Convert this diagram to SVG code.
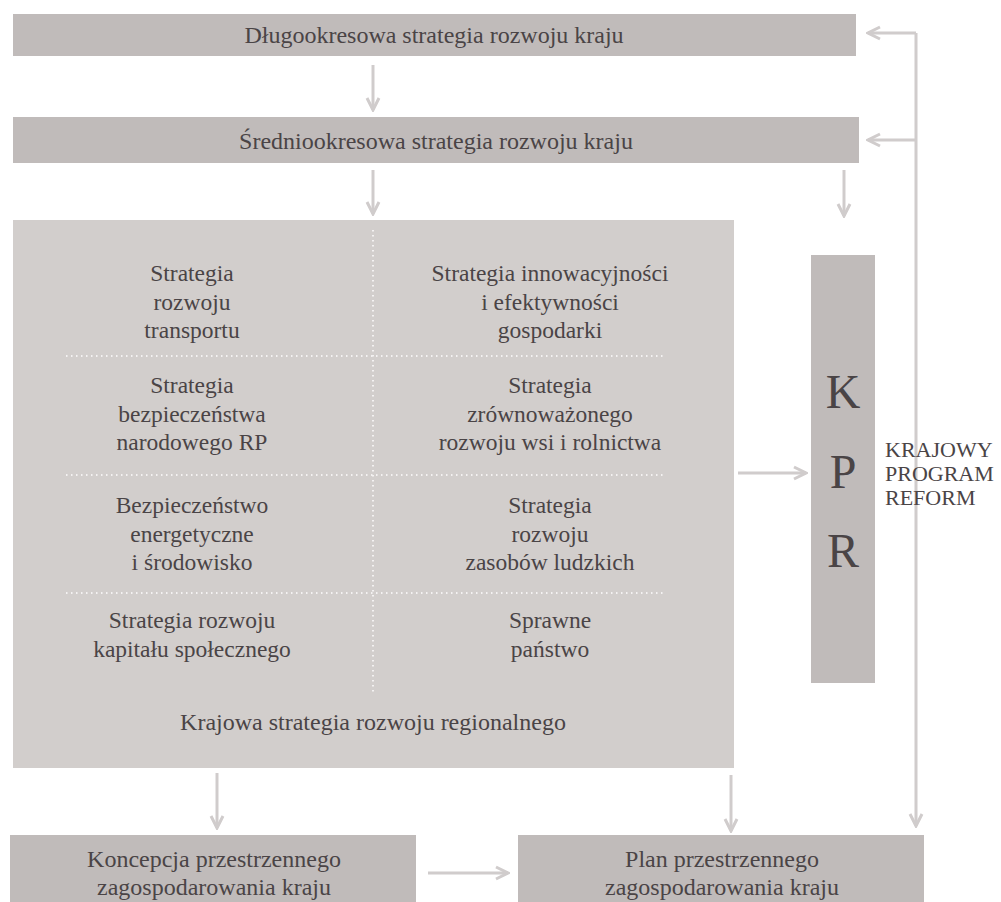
<svg xmlns="http://www.w3.org/2000/svg" width="1001" height="902" viewBox="0 0 1001 902">
<style>
  .box{fill:#c0bbba}
  .big{fill:#d2cecc}
  .t{font-family:"Liberation Serif","DejaVu Serif",serif;fill:#4a4446;text-anchor:middle}
  .h{font-size:24px}
  .g{font-size:23.5px}
  .kpr{font-size:48px}
  .side{font-family:"Liberation Serif","DejaVu Serif",serif;fill:#4a4446;font-size:22px}
  .c{stroke:#d0cccc;stroke-width:3;fill:none}
  .dot{stroke:#f4f2f2;stroke-width:2;stroke-dasharray:1.5 3.5;fill:none}
</style>
<defs>
  <marker id="ah" viewBox="0 0 16 16" refX="14" refY="8" markerWidth="16" markerHeight="16" orient="auto" markerUnits="userSpaceOnUse">
    <path d="M2,2 L14,8 L2,14" fill="none" stroke="#d0cccc" stroke-width="3"/>
  </marker>
</defs>
<rect width="1001" height="902" fill="#ffffff"/>

<g id="connectors">
  <line class="c" x1="373" y1="65" x2="373" y2="110" marker-end="url(#ah)"/>
  <line class="c" x1="373" y1="170" x2="373" y2="214" marker-end="url(#ah)"/>
  <line class="c" x1="844" y1="170" x2="844" y2="216" marker-end="url(#ah)"/>
  <line class="c" x1="916" y1="33" x2="916" y2="826" marker-end="url(#ah)"/>
  <line class="c" x1="916" y1="33" x2="868" y2="33" marker-end="url(#ah)"/>
  <line class="c" x1="916" y1="140" x2="868" y2="140" marker-end="url(#ah)"/>
  <line class="c" x1="738" y1="473" x2="806" y2="473" marker-end="url(#ah)"/>
  <line class="c" x1="217" y1="773" x2="217" y2="828" marker-end="url(#ah)"/>
  <line class="c" x1="731" y1="775" x2="731" y2="831" marker-end="url(#ah)"/>
  <line class="c" x1="428" y1="873" x2="508" y2="873" marker-end="url(#ah)"/>
</g>

<g id="dlugookresowa">
  <rect class="box" x="13" y="14" width="843" height="42"/>
  <text class="t h" x="434" y="43">Długookresowa strategia rozwoju kraju</text>
</g>

<g id="sredniookresowa">
  <rect class="box" x="13" y="117" width="846" height="46"/>
  <text class="t h" x="436" y="149">Średniookresowa strategia rozwoju kraju</text>
</g>

<g id="krajowa">
  <rect class="big" x="13" y="220" width="721" height="548"/>
  <line class="dot" x1="373" y1="230" x2="373" y2="693"/>
  <line class="dot" x1="66" y1="356" x2="665" y2="356"/>
  <line class="dot" x1="66" y1="475" x2="665" y2="475"/>
  <line class="dot" x1="66" y1="593" x2="665" y2="593"/>
  <text class="t g" x="192" y="281">Strategia</text>
  <text class="t g" x="192" y="310">rozwoju</text>
  <text class="t g" x="192" y="338">transportu</text>
  <text class="t g" x="550" y="281">Strategia innowacyjności</text>
  <text class="t g" x="550" y="310">i efektywności</text>
  <text class="t g" x="550" y="338">gospodarki</text>
  <text class="t g" x="192" y="393">Strategia</text>
  <text class="t g" x="192" y="422">bezpieczeństwa</text>
  <text class="t g" x="192" y="450">narodowego RP</text>
  <text class="t g" x="550" y="393">Strategia</text>
  <text class="t g" x="550" y="422">zrównoważonego</text>
  <text class="t g" x="550" y="450">rozwoju wsi i rolnictwa</text>
  <text class="t g" x="192" y="513">Bezpieczeństwo</text>
  <text class="t g" x="192" y="542">energetyczne</text>
  <text class="t g" x="192" y="570">i środowisko</text>
  <text class="t g" x="550" y="513">Strategia</text>
  <text class="t g" x="550" y="542">rozwoju</text>
  <text class="t g" x="550" y="570">zasobów ludzkich</text>
  <text class="t g" x="192" y="628">Strategia rozwoju</text>
  <text class="t g" x="192" y="657">kapitału społecznego</text>
  <text class="t g" x="550" y="628">Sprawne</text>
  <text class="t g" x="550" y="657">państwo</text>
  <text class="t h" x="373" y="730">Krajowa strategia rozwoju regionalnego</text>
</g>

<g id="kpr">
  <rect class="box" x="811" y="255" width="64" height="428"/>
  <text class="t kpr" x="843" y="408">K</text>
  <text class="t kpr" x="843" y="488">P</text>
  <text class="t kpr" x="843" y="567">R</text>
  <text class="side" x="885" y="457">KRAJOWY</text>
  <text class="side" x="885" y="481">PROGRAM</text>
  <text class="side" x="885" y="505">REFORM</text>
</g>

<g id="koncepcja">
  <rect class="box" x="10" y="835" width="406" height="67"/>
  <text class="t h" x="214" y="867">Koncepcja przestrzennego</text>
  <text class="t h" x="214" y="895">zagospodarowania kraju</text>
</g>

<g id="plan">
  <rect class="box" x="518" y="835" width="406" height="67"/>
  <text class="t h" x="722" y="867">Plan przestrzennego</text>
  <text class="t h" x="722" y="895">zagospodarowania kraju</text>
</g>
</svg>
